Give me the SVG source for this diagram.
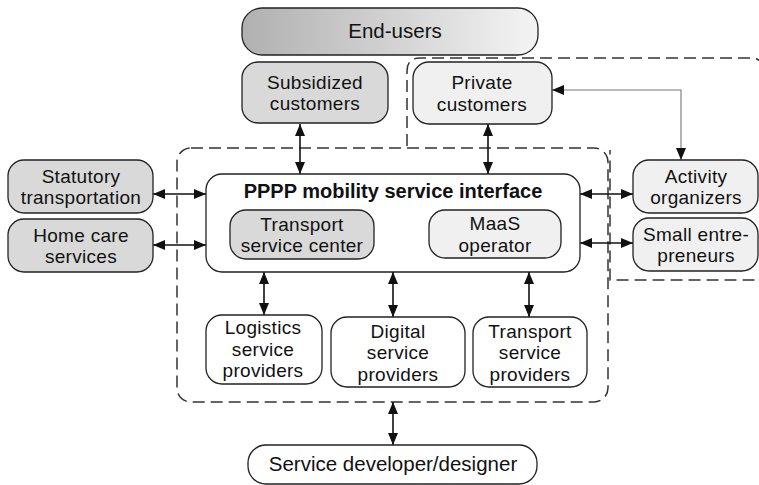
<svg xmlns="http://www.w3.org/2000/svg" width="759" height="485" viewBox="0 0 759 485">
  <style>
    .node { stroke: #222; stroke-width: 1.3; }
    .grey { fill: #d9d9d9; }
    .light { fill: #f0f0f0; }
    .white { fill: #ffffff; }
    .lbl { font-family: "Liberation Sans", Arial, sans-serif; font-size: 19px; letter-spacing: 0.3px; fill: #111; text-anchor: middle; }
    .big { font-size: 20.5px; letter-spacing: 0; }
    .title { font-weight: bold; font-size: 20px; letter-spacing: 0; }
    .dash { fill: none; stroke: #333; stroke-width: 1.5; stroke-dasharray: 12 6; }
    .link { fill: none; stroke: #111; stroke-width: 1.6; marker-start: url(#head); marker-end: url(#head); }
    .thin { fill: none; stroke: #777; stroke-width: 1.1; marker-start: url(#head); marker-end: url(#head); }
  </style>
  <defs>
    <linearGradient id="endGrad" x1="0" y1="0" x2="1" y2="0">
      <stop offset="0" stop-color="#b0b0b0"/>
      <stop offset="1" stop-color="#f4f4f4"/>
    </linearGradient>
    <marker id="head" viewBox="0 0 12 10" refX="12" refY="5" markerWidth="12" markerHeight="10" markerUnits="userSpaceOnUse" orient="auto-start-reverse">
      <path d="M0,0 L12,5 L0,10 z" fill="#111"/>
    </marker>
  </defs>

  <!-- dashed groupings -->
  <g id="regions">
    <rect class="dash" x="177" y="148" width="431" height="254" rx="14"/>
    <path class="dash" d="M407,146 V71 Q407,58 420,58 H750 Q764,58 764,72 V280 H610 V150"/>
  </g>

  <!-- connectors -->
  <g id="connectors">
    <line class="link" x1="300" y1="124" x2="300" y2="174"/>
    <line class="link" x1="488" y1="124" x2="488" y2="174"/>
    <polyline class="thin" points="552,90 681,90 681,160"/>
    <line class="link" x1="153" y1="194" x2="206" y2="194"/>
    <line class="link" x1="153" y1="245" x2="206" y2="245"/>
    <line class="link" x1="580" y1="194" x2="633" y2="194"/>
    <line class="link" x1="580" y1="243" x2="633" y2="243"/>
    <line class="link" x1="374" y1="234" x2="429" y2="234"/>
    <line class="link" x1="264" y1="272" x2="264" y2="315"/>
    <line class="link" x1="393" y1="272" x2="393" y2="317"/>
    <line class="link" x1="529" y1="272" x2="529" y2="317"/>
    <line class="link" x1="393" y1="402" x2="393" y2="445"/>
  </g>

  <g id="end-users">
    <rect class="node" x="242" y="8" width="296" height="47" rx="20" fill="url(#endGrad)"/>
    <text class="lbl big" x="395" y="38">End-users</text>
  </g>

  <g id="subsidized-customers">
    <rect class="node grey" x="242" y="62" width="146" height="61" rx="16"/>
    <text class="lbl" x="315" y="88.5">Subsidized<tspan x="315" dy="21.5">customers</tspan></text>
  </g>

  <g id="private-customers">
    <rect class="node light" x="413" y="62" width="139" height="62" rx="16"/>
    <text class="lbl" x="482" y="89">Private<tspan x="482" dy="21.5">customers</tspan></text>
  </g>

  <g id="statutory-transportation">
    <rect class="node grey" x="8" y="160" width="145" height="53" rx="16"/>
    <text class="lbl" x="81" y="182.5">Statutory<tspan x="81" dy="21.5">transportation</tspan></text>
  </g>

  <g id="home-care-services">
    <rect class="node grey" x="8" y="219" width="145" height="53" rx="16"/>
    <text class="lbl" x="81" y="241.5">Home care<tspan x="81" dy="21.5">services</tspan></text>
  </g>

  <g id="pppp-interface">
    <rect class="node white" x="206" y="174" width="374" height="98" rx="16" stroke-width="2.5"/>
    <text class="lbl title" x="393" y="198">PPPP mobility service interface</text>
  </g>

  <g id="transport-service-center">
    <rect class="node grey" x="230" y="210" width="144" height="49" rx="16"/>
    <text class="lbl" x="302" y="230.5">Transport<tspan x="302" dy="21.5">service center</tspan></text>
  </g>

  <g id="maas-operator">
    <rect class="node light" x="429" y="210" width="132" height="48" rx="16"/>
    <text class="lbl" x="495" y="230">MaaS<tspan x="495" dy="21.5">operator</tspan></text>
  </g>

  <g id="activity-organizers">
    <rect class="node light" x="633" y="160" width="125" height="53" rx="16"/>
    <text class="lbl" x="696" y="182.5">Activity<tspan x="696" dy="21.5">organizers</tspan></text>
  </g>

  <g id="small-entrepreneurs">
    <rect class="node light" x="633" y="218" width="125" height="53" rx="16"/>
    <text class="lbl" x="696" y="240.5">Small entre-<tspan x="696" dy="21.5">preneurs</tspan></text>
  </g>

  <g id="logistics-providers">
    <rect class="node white" x="206" y="315" width="116" height="69" rx="16"/>
    <text class="lbl" x="263" y="334">Logistics<tspan x="263" dy="21.5">service</tspan><tspan x="263" dy="21.5">providers</tspan></text>
  </g>

  <g id="digital-providers">
    <rect class="node white" x="331" y="317" width="134" height="70" rx="16"/>
    <text class="lbl" x="398" y="337.5">Digital<tspan x="398" dy="21.5">service</tspan><tspan x="398" dy="21.5">providers</tspan></text>
  </g>

  <g id="transport-providers">
    <rect class="node white" x="473" y="317" width="114" height="70" rx="16"/>
    <text class="lbl" x="530" y="337.5">Transport<tspan x="530" dy="21.5">service</tspan><tspan x="530" dy="21.5">providers</tspan></text>
  </g>

  <g id="service-developer">
    <rect class="node white" x="248" y="445" width="289" height="39" rx="18"/>
    <text class="lbl big" x="393" y="471">Service developer/designer</text>
  </g>
</svg>
